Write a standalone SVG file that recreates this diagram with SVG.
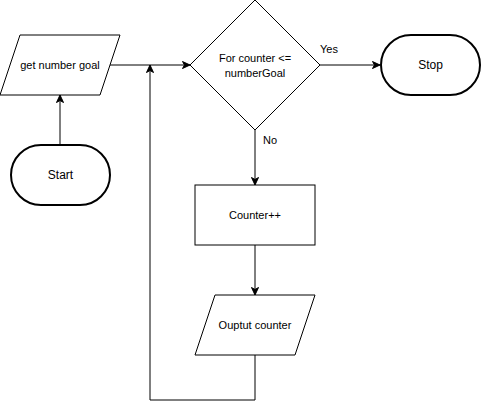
<svg xmlns="http://www.w3.org/2000/svg" width="482" height="409" viewBox="0 0 482 409">
<style>
.s{fill:#fff;stroke:#000;stroke-width:1}
.t{fill:#fff;stroke:#000;stroke-width:2}
.c{fill:none;stroke:#000;stroke-width:1}
text{font-family:"Liberation Sans",Arial,sans-serif;font-size:11px;fill:#000;text-anchor:middle;dominant-baseline:central}
text.b{font-size:12px}
</style>
<defs>
<marker id="a" markerUnits="userSpaceOnUse" markerWidth="10" markerHeight="10" refX="8" refY="4" orient="auto" overflow="visible">
<path d="M0.5,0.5 L8,4 L0.5,7.5 L2.5,4 Z" fill="#000" stroke="#000" stroke-width="1"/>
</marker>
</defs>
<rect width="482" height="409" fill="#fff"/>
<g id="connectors">
<path class="c" d="M60,145 V95" marker-end="url(#a)"/>
<path class="c" d="M110,65 H190" marker-end="url(#a)"/>
<path class="c" d="M320,65 H380" marker-end="url(#a)"/>
<path class="c" d="M255,130 V185" marker-end="url(#a)"/>
<path class="c" d="M255,245 V295" marker-end="url(#a)"/>
<path class="c" d="M255,355 V400 H150 V65" marker-end="url(#a)"/>
<text x="329" y="49">Yes</text>
<text x="270" y="140">No</text>
</g>
<g id="start">
<rect class="t" x="11" y="145" width="99" height="60" rx="30" ry="30"/>
<text class="b" x="60.5" y="175">Start</text>
</g>
<g id="getGoal">
<polygon class="s" points="20,35 120,35 100,95 0,95"/>
<text x="60" y="65">get number goal</text>
</g>
<g id="decision">
<polygon class="s" points="255,0 320,65 255,130 190,65"/>
<text x="255" y="58">For counter &lt;=</text>
<text x="255" y="73">numberGoal</text>
</g>
<g id="stop">
<rect class="t" x="381" y="35" width="99" height="60" rx="30" ry="30"/>
<text class="b" x="430.5" y="65">Stop</text>
</g>
<g id="counter">
<rect class="s" x="195" y="185" width="120" height="60"/>
<text x="255" y="215">Counter++</text>
</g>
<g id="output">
<polygon class="s" points="215,295 315,295 295,355 195,355"/>
<text x="255" y="325">Ouptut counter</text>
</g>
</svg>
